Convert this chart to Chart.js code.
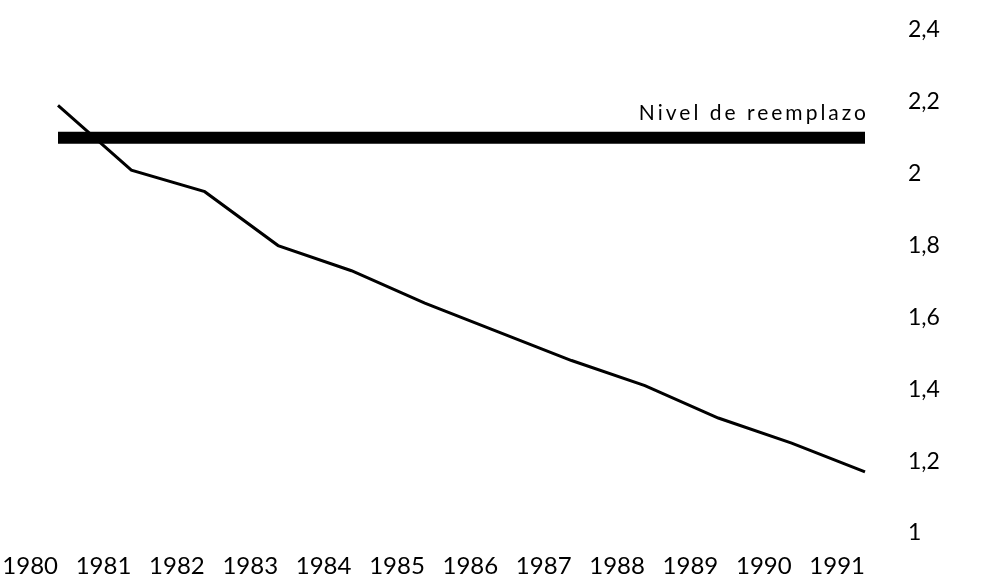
<!DOCTYPE html>
<html>
<head>
<meta charset="utf-8">
<script src="https://cdn.jsdelivr.net/npm/chart.js@4/dist/chart.umd.min.js"></script>
<style>
  html, body { margin: 0; padding: 0; background: #fff; }
  #wrap { width: 996px; height: 585px; }
</style>
</head>
<body>
<div id="wrap"><canvas id="c1"></canvas></div>
<script>
  // data
  var years = ['1980', '1981', '1982', '1983', '1984', '1985', '1986', '1987', '1988', '1989', '1990', '1991']
  var fertility = [2.19, 2.01, 1.95, 1.80, 1.73, 1.64, 1.56, 1.48, 1.41, 1.32, 1.25, 1.17]
  var replacementLevel = 2.1
  var replacementLabel = 'Nivel de reemplazo'
  var yTicks = [1, 1.2, 1.4, 1.6, 1.8, 2, 2.2, 2.4]

  var fontFamily = 'Lato, "DejaVu Sans", sans-serif'

  function commaNumber(v) {
    return String(Math.round(v * 10) / 10).replace('.', ',')
  }

  // writes the label just above the replacement line
  var replacementText = {
    id: 'replacementText',
    afterDatasetsDraw: function(chart) {
      var ctx = chart.ctx
      var x = chart.scales.x.getPixelForValue(years.length - 1)
      var y = chart.scales.y.getPixelForValue(replacementLevel)
      ctx.save()
      ctx.font = '21px ' + fontFamily
      ctx.fillStyle = '#000'
      ctx.textAlign = 'right'
      ctx.textBaseline = 'alphabetic'
      if ('letterSpacing' in ctx) ctx.letterSpacing = '3px'
      ctx.fillText(replacementLabel, x + 4, y - 18)
      ctx.restore()
    }
  }

  var ctx = document.getElementById('c1')
  var chart1 = new Chart(ctx, {
    type: 'line',
    data: {
      labels: years,
      datasets: [{
        data: years.map(function() { return replacementLevel }),
        borderColor: '#000',
        borderWidth: 12,
        borderCapStyle: 'butt',
        pointRadius: 0,
        fill: false
      }, {
        data: fertility,
        borderColor: '#000',
        borderWidth: 3,
        pointRadius: 0,
        tension: 0,
        fill: false
      }]
    },
    options: {
      responsive: true,
      maintainAspectRatio: false,
      animation: false,
      layout: {
        padding: { top: 30, right: 0, bottom: 0, left: 58 }
      },
      plugins: {
        legend: { display: false },
        tooltip: { enabled: false }
      },
      scales: {
        x: {
          offset: false,
          grid: { display: false },
          border: { display: false },
          afterFit: function(scale) {
            scale.height = 52
            scale.paddingLeft = 0
            scale.paddingRight = 0
          },
          ticks: {
            color: '#000',
            align: 'end',
            maxRotation: 0,
            autoSkip: false,
            padding: 11,
            font: { family: fontFamily, size: 24 }
          }
        },
        y: {
          position: 'right',
          min: 1,
          max: 2.4,
          grid: { display: false },
          border: { display: false },
          afterBuildTicks: function(scale) {
            scale.ticks = yTicks.map(function(v) { return { value: v } })
          },
          afterFit: function(scale) {
            scale.width = 131
            scale.paddingTop = 0
            scale.paddingBottom = 0
          },
          ticks: {
            color: '#000',
            padding: 35,
            font: { family: fontFamily, size: 23 },
            callback: function(value) { return commaNumber(value) }
          }
        }
      }
    },
    plugins: [replacementText]
  })
</script>
</body>
</html>
